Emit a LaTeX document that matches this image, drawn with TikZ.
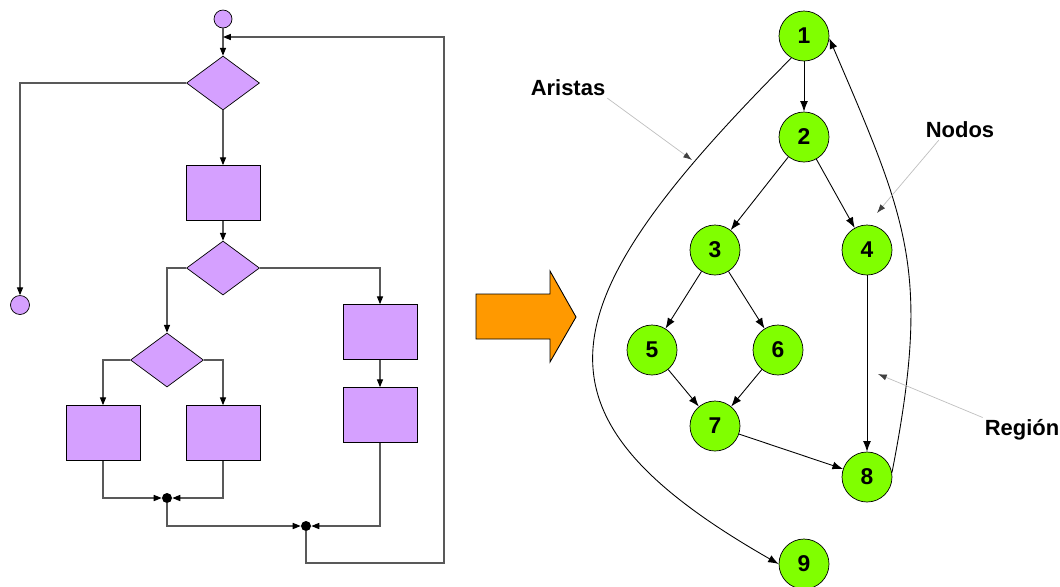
\documentclass[tikz,border=0pt]{standalone}
\usepackage{fontspec}
\setmainfont{Liberation Sans}
\usetikzlibrary{shapes.geometric,arrows.meta}
\definecolor{lila}{RGB}{213,160,255}
\definecolor{verde}{RGB}{128,255,0}
\definecolor{naranja}{RGB}{255,153,0}
\begin{document}
\begin{tikzpicture}[x=0.02cm,y=-0.02cm,
  caja/.style={draw,fill=lila,minimum width=1.48cm,minimum height=1.1cm,inner sep=0pt},
  rombo/.style={diamond,draw,fill=lila,minimum width=1.46cm,minimum height=1.08cm,inner sep=0pt},
  punta/.style={circle,draw,fill=lila,minimum size=#1,inner sep=0pt},
  union/.style={circle,fill=black,minimum size=0.2cm,inner sep=0pt},
  flujo/.style={draw=black!65,line width=0.6pt,-{Triangle[length=4.5pt,width=3.5pt,color=black]}},
  nodo/.style={circle,draw,fill=verde,minimum size=1cm,inner sep=0pt,font=\bfseries\fontsize{13}{15}\selectfont},
  arista/.style={line width=0.5pt,-{Latex[length=6pt,width=4.5pt]}},
  etiqueta/.style={font=\bfseries\fontsize{12.5}{15}\selectfont,inner sep=1pt},
  guia/.style={draw=black!25,line width=0.4pt,-{Latex[length=5pt,width=3.5pt,color=black!75]}}]
\useasboundingbox (0,0) rectangle (1060,586);
% diagrama de flujo
\node[punta=0.36cm] (inicio) at (223,19) {};
\node[rombo] (d1) at (223,83) {};
\node[punta=0.38cm] (fin) at (20,305) {};
\node[caja] (r1) at (223,193) {};
\node[rombo] (d2) at (223,268) {};
\node[rombo] (d3) at (167,360) {};
\node[caja] (ra) at (380,332) {};
\node[caja] (rb) at (380,415) {};
\node[caja] (rl) at (103,433) {};
\node[caja] (rm) at (223,433) {};
\node[union] (u1) at (167,498) {};
\node[union] (u2) at (306,526) {};
\coordinate (entrada) at (223,37);
\coordinate (vuelta) at (444,563);
\draw[flujo] (inicio) -- (d1);
\draw[flujo] (d1) -| (fin);
\draw[flujo] (d1) -- (r1);
\draw[flujo] (r1) -- (d2);
\draw[flujo] (d2) -| (d3);
\draw[flujo] (d2) -| (ra);
\draw[flujo] (ra) -- (rb);
\draw[flujo] (d3) -| (rl);
\draw[flujo] (d3) -| (rm);
\draw[flujo] (rl) |- (u1);
\draw[flujo] (rm) |- (u1);
\draw[flujo] (u1) |- (u2);
\draw[flujo] (rb) |- (u2);
\draw[flujo] (u2) |- (vuelta) |- (entrada);
% flecha
\draw[fill=naranja,line width=0.5pt] (476,294) -- (550,294) -- (550,271) -- (576,317)
  -- (550,362) -- (550,339) -- (476,339) -- cycle;
% grafo
\node[nodo] (n1) at (804,36) {1};
\node[nodo] (n2) at (804,137) {2};
\node[nodo] (n3) at (715,250) {3};
\node[nodo] (n4) at (867,250) {4};
\node[nodo] (n5) at (652,350) {5};
\node[nodo] (n6) at (778,350) {6};
\node[nodo] (n7) at (715,426) {7};
\node[nodo] (n8) at (867,477) {8};
\node[nodo] (n9) at (804,564) {9};
\draw[arista] (n1) -- (n2);
\draw[arista] (n2) -- (n3);
\draw[arista] (n2) -- (n4);
\draw[arista] (n3) -- (n5);
\draw[arista] (n3) -- (n6);
\draw[arista] (n4) -- (n8);
\draw[arista] (n5) -- (n7);
\draw[arista] (n6) -- (n7);
\draw[arista] (n7) -- (n8);
\draw[arista] (n1.240) .. controls (543,307) and (518,415) .. (n9.west);
\draw[arista] (n8.10) .. controls (931,272) and (909,224) .. (n1.355);
% etiquetas
\node[etiqueta] (aristas) at (568,88) {Aristas};
\node[etiqueta] (nodos) at (960,130) {Nodos};
\node[etiqueta] (region) at (1022,430) {Región};
\coordinate (pa) at (692,160);
\coordinate (pn) at (877,213);
\coordinate (pr) at (878,374);
\draw[guia] (aristas.south east) -- (pa);
\draw[guia] ([xshift=0.3cm]nodos.south west) -- (pn);
\draw[guia] (region.north west) -- (pr);
\end{tikzpicture}
\end{document}
